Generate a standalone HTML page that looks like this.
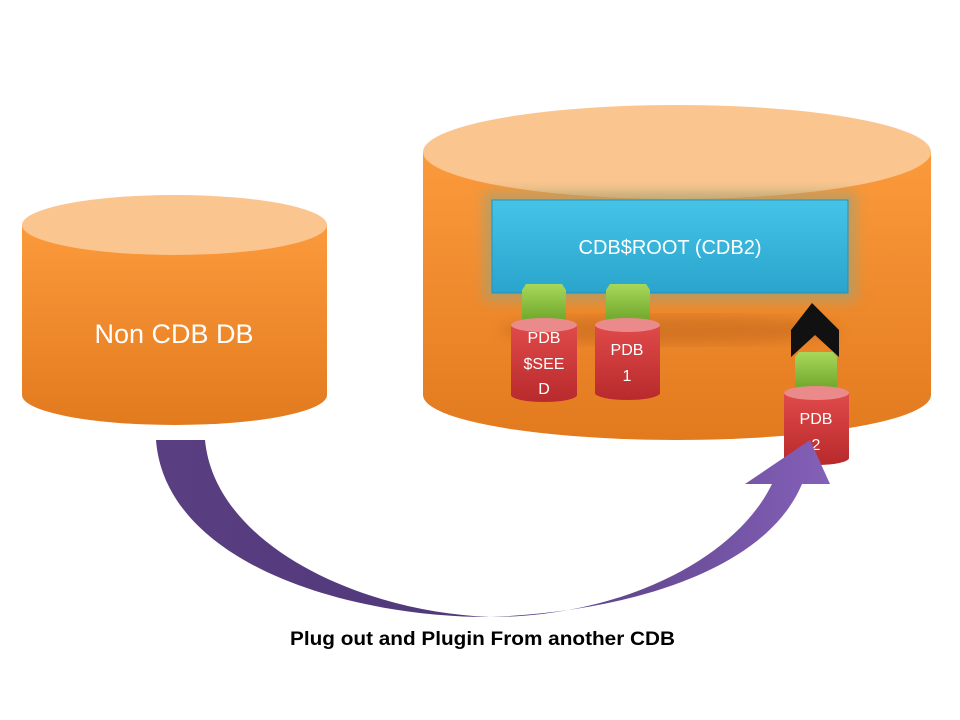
<!DOCTYPE html>
<html><head><meta charset="utf-8"><style>
html,body{margin:0;padding:0;background:#fff;}
svg{display:block;}
text{font-family:"Liberation Sans",sans-serif;}
</style></head><body>
<svg width="960" height="720" viewBox="0 0 960 720" xmlns="http://www.w3.org/2000/svg">
<defs>
<linearGradient id="org" x1="0" y1="0" x2="0" y2="1">
<stop offset="0" stop-color="#fb9a3c"/><stop offset="1" stop-color="#e27a1e"/></linearGradient>
<linearGradient id="red" x1="0" y1="0" x2="0" y2="1">
<stop offset="0" stop-color="#e04a4a"/><stop offset="1" stop-color="#b82a2c"/></linearGradient>
<linearGradient id="grn" x1="0" y1="0" x2="0" y2="1">
<stop offset="0" stop-color="#a8d85a"/><stop offset="1" stop-color="#6da52a"/></linearGradient>
<linearGradient id="blu" x1="0" y1="0" x2="0" y2="1">
<stop offset="0" stop-color="#45c4e8"/><stop offset="1" stop-color="#2aa4cc"/></linearGradient>
<linearGradient id="pur" x1="0" y1="0" x2="1" y2="0">
<stop offset="0" stop-color="#5a3e82"/><stop offset="0.5" stop-color="#4f3878"/><stop offset="1" stop-color="#8460b8"/></linearGradient>
<filter id="blur"><feGaussianBlur stdDeviation="6"/></filter>
</defs>

<path d="M22,225 L22,395 A152.5,30 0 0 0 327,395 L327,225 Z" fill="url(#org)"/>
<ellipse cx="174.5" cy="225" rx="152.5" ry="30" fill="#fbc58f"/>
<text x="174" y="343" font-size="27" fill="#fff" text-anchor="middle">Non CDB DB</text>

<path d="M423,152 L423,395 A254,45 0 0 0 931,395 L931,152 Z" fill="url(#org)"/>
<ellipse cx="677" cy="152" rx="254" ry="47" fill="#fbc58f"/>
<ellipse cx="670" cy="330" rx="170" ry="14" fill="#b8601c" opacity="0.45" filter="url(#blur)"/>

<rect x="484" y="192" width="372" height="109" fill="#a8a070" opacity="0.75" filter="url(#blur)"/>
<rect x="492" y="200" width="356" height="93" fill="url(#blu)" stroke="#2a90b8" stroke-width="1"/>
<text x="670" y="254" font-size="20" fill="#fff" text-anchor="middle">CDB$ROOT (CDB2)</text>

<path d="M526,284 L562,284 L566,290 L566,322 L522,322 L522,290 Z" fill="url(#grn)"/>
<path d="M610,284 L646,284 L650,290 L650,322 L606,322 L606,290 Z" fill="url(#grn)"/>

<path d="M511,325 L511,395 A33,7 0 0 0 577,395 L577,325 Z" fill="url(#red)"/>
<ellipse cx="544" cy="325" rx="33" ry="7" fill="#ea8a8a"/>
<text font-size="16" fill="#fff" text-anchor="middle"><tspan x="544" y="343">PDB</tspan><tspan x="544" y="369">$SEE</tspan><tspan x="544" y="394">D</tspan></text>

<path d="M595,325 L595,393 A32.5,7 0 0 0 660,393 L660,325 Z" fill="url(#red)"/>
<ellipse cx="627.5" cy="325" rx="32.5" ry="7" fill="#ea8a8a"/>
<text font-size="16" fill="#fff" text-anchor="middle"><tspan x="627" y="355">PDB</tspan><tspan x="627" y="381">1</tspan></text>

<path d="M812,303 L839,330 L839,357 L815,335 L791,357 L791,330 Z" fill="#111"/>
<path d="M799,352 L833,352 L837,357 L837,390 L795,390 L795,357 Z" fill="url(#grn)"/>
<path d="M784,393 L784,458 A32.5,7 0 0 0 849,458 L849,393 Z" fill="url(#red)"/>
<ellipse cx="816.5" cy="393" rx="32.5" ry="7" fill="#ea8a8a"/>
<text font-size="16" fill="#fff" text-anchor="middle"><tspan x="816" y="424">PDB</tspan><tspan x="816" y="450">2</tspan></text>

<path d="M156,440 C165,560 340,617 490,617 C620,617 735,560 772,484 L745,484 L810,440 L830,484 L802,484 C765,572 625,612 490,617 C360,612 215,545 205,440 Z" fill="url(#pur)"/>

<text x="290" y="645" font-size="19" font-weight="bold" fill="#000" textLength="385" lengthAdjust="spacingAndGlyphs">Plug out and Plugin  From another CDB</text>
</svg>
</body></html>
